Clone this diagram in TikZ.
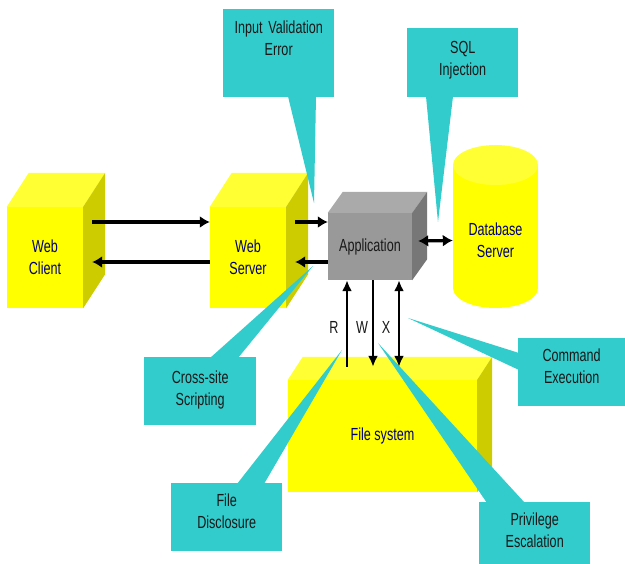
\documentclass[tikz,border=0pt]{standalone}
\usepackage{fontspec}
\setmainfont[FakeStretch=0.72]{Liberation Sans}
\usetikzlibrary{arrows.meta}
\definecolor{cubeyellow}{RGB}{255,255,0}
\definecolor{cubetop}{RGB}{255,255,51}
\definecolor{cubeside}{RGB}{204,204,0}
\definecolor{appfront}{RGB}{153,153,153}
\definecolor{apptop}{RGB}{170,170,170}
\definecolor{appside}{RGB}{119,119,119}
\definecolor{callcyan}{RGB}{51,204,204}
\definecolor{labelblue}{RGB}{0,0,120}
% top and right faces of a box drawn behind a front node
\newcommand{\cubesides}[5]{%
  \fill[#4] (#1.north west) -- ++(#2,#3) -- ([shift={(#2,#3)}]#1.north east) -- (#1.north east) -- cycle;
  \fill[#5] (#1.north east) -- ++(#2,#3) -- ([shift={(#2,#3)}]#1.south east) -- (#1.south east) -- cycle;
}
\tikzset{
  front/.style={fill=cubeyellow, text=labelblue, inner sep=0pt, align=center},
  callout/.style={fill=callcyan, text=black!90, inner sep=0pt, align=center, anchor=north west},
  flow/.style={line width=3.2pt, -{Latex[length=10pt,width=12pt]}},
  bothflow/.style={line width=3.2pt, {Latex[length=10pt,width=12pt]}-{Latex[length=10pt,width=12pt]}},
  rwx/.style={line width=2.4pt, -{Latex[length=11pt,width=10pt]}},
  rwxboth/.style={line width=2.4pt, {Latex[length=11pt,width=10pt]}-{Latex[length=11pt,width=10pt]}}
}

\begin{document}
\begin{tikzpicture}[x=1pt,y=-1pt, every node/.style={font=\fontsize{17.5}{22}\selectfont}]
  \fill[white] (0,0) rectangle (625,564);
  \useasboundingbox (0,0) rectangle (625,564);

  % boxes
  \node[front, minimum width=76pt, minimum height=101pt] (client) at (45,257.5) {Web\\Client};
  \cubesides{client}{22}{-34}{cubetop}{cubeside}
  \node[front, minimum width=76pt, minimum height=101pt] (server) at (248,257.5) {Web\\Server};
  \cubesides{server}{22}{-34}{cubetop}{cubeside}
  \node[front, fill=appfront, text=black!90, minimum width=84pt, minimum height=67pt] (app) at (370,246.5) {Application};
  \cubesides{app}{15}{-21}{apptop}{appside}
  \node[front, minimum width=189pt, minimum height=112pt] (files) at (382.5,436) {File system};
  \cubesides{files}{15}{-23}{cubetop}{cubeside}

  % database cylinder
  \fill[cubeyellow] (453,165) rectangle (538,288);
  \fill[cubeyellow] (495.5,288) ellipse [x radius=42.5pt, y radius=20pt];
  \fill[cubetop] (495.5,165) ellipse [x radius=42.5pt, y radius=20pt];
  \node[front, fill=none, minimum width=85pt] (db) at (495.5,240.5) {Database\\Server};

  % callouts
  \node[callout, text width=111pt, text height=24pt, text depth=64pt] (ive) at (223,9) {Input Validation\\Error};
  \node[callout, text width=111pt, text height=25pt, text depth=44pt] (sql) at (407,28) {SQL\\Injection};
  \node[callout, text width=112pt, text height=26pt, text depth=42pt] (xss) at (144,357) {Cross-site\\Scripting};
  \node[callout, text width=107pt, text height=23pt, text depth=45pt] (cmd) at (518,338) {Command\\Execution};
  \node[callout, text width=111pt, text height=23pt, text depth=45pt] (priv) at (479,502) {Privilege\\Escalation};
  \node[callout, text width=111pt, text height=23pt, text depth=45pt] (disc) at (171,483) {File\\Disclosure};

  \coordinate (ivetip) at (314,203);
  \coordinate (sqltip) at (438,222);
  \coordinate (xsstip) at (313,266);
  \coordinate (cmdtip) at (408,318);
  \coordinate (privtip) at (378,343);
  \coordinate (disctip) at (342,350);
  \fill[callcyan] ([xshift=65pt,yshift=1pt]ive.south west) -- ([xshift=93pt,yshift=1pt]ive.south west) -- (ivetip) -- cycle;
  \fill[callcyan] ([xshift=19pt,yshift=1pt]sql.south west) -- ([xshift=46pt,yshift=1pt]sql.south west) -- (sqltip) -- cycle;
  \fill[callcyan] ([xshift=66pt,yshift=-1pt]xss.north west) -- ([xshift=94pt,yshift=-1pt]xss.north west) -- (xsstip) -- cycle;
  \fill[callcyan] ([xshift=1pt,yshift=-15pt]cmd.north west) -- ([xshift=1pt,yshift=-32pt]cmd.north west) -- (cmdtip) -- cycle;
  \fill[callcyan] ([xshift=8pt,yshift=-1pt]priv.north west) -- ([xshift=46pt,yshift=-1pt]priv.north west) -- (privtip) -- cycle;
  \fill[callcyan] ([xshift=66pt,yshift=-1pt]disc.north west) -- ([xshift=93pt,yshift=-1pt]disc.north west) -- (disctip) -- cycle;

  % requests and responses
  \draw[flow] ([xshift=9pt,yshift=35.5pt]client.east) -- ([yshift=35.5pt]server.west);
  \draw[flow] ([yshift=-4.5pt]server.west) -- ([xshift=9pt,yshift=-4.5pt]client.east);
  \draw[flow] ([xshift=9pt,yshift=35.5pt]server.east) -- ([yshift=24.5pt]app.west);
  \draw[flow] ([yshift=-15.5pt]app.west) -- ([xshift=9pt,yshift=-4.5pt]server.east);
  \draw[bothflow] ([xshift=6pt,yshift=5.5pt]app.east) -- (db.west);

  % file access
  \draw[rwx] ([xshift=-35.5pt,yshift=13pt]files.north) -- ([xshift=-23pt]app.south);
  \draw[rwx] ([xshift=3pt]app.south) -- ([xshift=-9.5pt,yshift=13pt]files.north);
  \draw[rwxboth] ([xshift=29pt]app.south) -- ([xshift=16.5pt,yshift=13pt]files.north);
  \node[text=black!90] (rlabel) at (334,327) {R};
  \node[text=black!90] (wlabel) at (362,327) {W};
  \node[text=black!90] (xlabel) at (386,327) {X};
\end{tikzpicture}
\end{document}
